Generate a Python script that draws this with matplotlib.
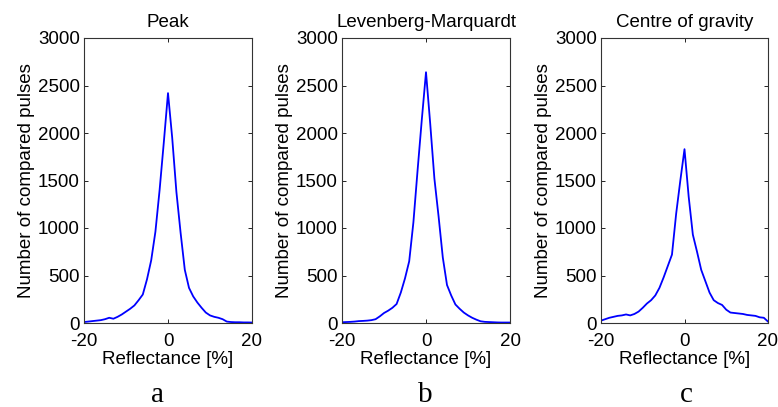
import matplotlib
matplotlib.use("Agg")
import matplotlib.pyplot as plt
import numpy as np

plt.rcParams['font.family'] = ['Liberation Sans', 'DejaVu Sans']
plt.rcParams['axes.unicode_minus'] = False

reflectance = list(range(-20, 21))

peak_counts = [10, 15, 20, 25, 30, 40, 55, 45, 65, 90, 120, 150, 185, 240, 300, 460, 660, 960,
               1400, 1900, 2420, 1950, 1380, 950, 560, 370, 280, 215, 160, 110, 80, 65, 55, 40,
               15, 10, 8, 8, 6, 6, 5]

lm_counts = [8, 10, 12, 15, 20, 22, 25, 30, 40, 70, 105, 130, 160, 200, 320, 470, 650, 1060,
             1610, 2140, 2640, 2100, 1520, 1120, 690, 400, 290, 195, 150, 110, 80, 55, 35, 18,
             12, 10, 8, 6, 5, 5, 5]

cog_counts = [25, 40, 55, 65, 75, 80, 90, 80, 95, 120, 160, 205, 240, 290, 370, 480, 600, 720,
              1150, 1500, 1830, 1330, 930, 750, 560, 440, 320, 240, 210, 190, 140, 110, 105,
              100, 95, 85, 80, 75, 60, 55, 15]

titles = ["Peak", "Levenberg-Marquardt", "Centre of gravity"]
panel_letters = ["a", "b", "c"]
series = [peak_counts, lm_counts, cog_counts]

x_ticks = [-20, 0, 20]
y_ticks = [0, 500, 1000, 1500, 2000, 2500, 3000]

W, H = 778, 407
fig = plt.figure(figsize=(W / 100, H / 100), dpi=100)

lefts = [84, 342, 601]
widths = [168, 168, 167]
top_px, bot_px = 38, 323
letter_x = [158, 425, 686]

for i in range(3):
    ax = fig.add_axes([lefts[i] / W, (H - bot_px) / H, widths[i] / W, (bot_px - top_px) / H])
    ax.plot(reflectance, series[i], color='#0000ff', lw=1.3)
    ax.set_xlim(-20, 20)
    ax.set_ylim(0, 3000)
    ax.set_xticks(x_ticks)
    ax.set_yticks(y_ticks)
    ax.tick_params(axis='both', direction='in', length=3, width=0.6, top=True, right=True,
                   labelsize=13.5, colors='black')
    ax.tick_params(axis='x', pad=7)
    ax.tick_params(axis='y', pad=3)
    for s in ax.spines.values():
        s.set_linewidth(0.8)
        s.set_color('#333333')
    ax.set_title(titles[i], fontsize=13.5, pad=8)
    ax.set_xlabel("Reflectance [%]", fontsize=13.5, labelpad=1)
    ax.set_ylabel("Number of compared pulses", fontsize=13.5, labelpad=2)
    fig.text(letter_x[i] / W, 1 - 395 / H, panel_letters[i], family='Liberation Serif',
             fontsize=21, ha='center', va='center')

fig.savefig("out.png", dpi=100)
